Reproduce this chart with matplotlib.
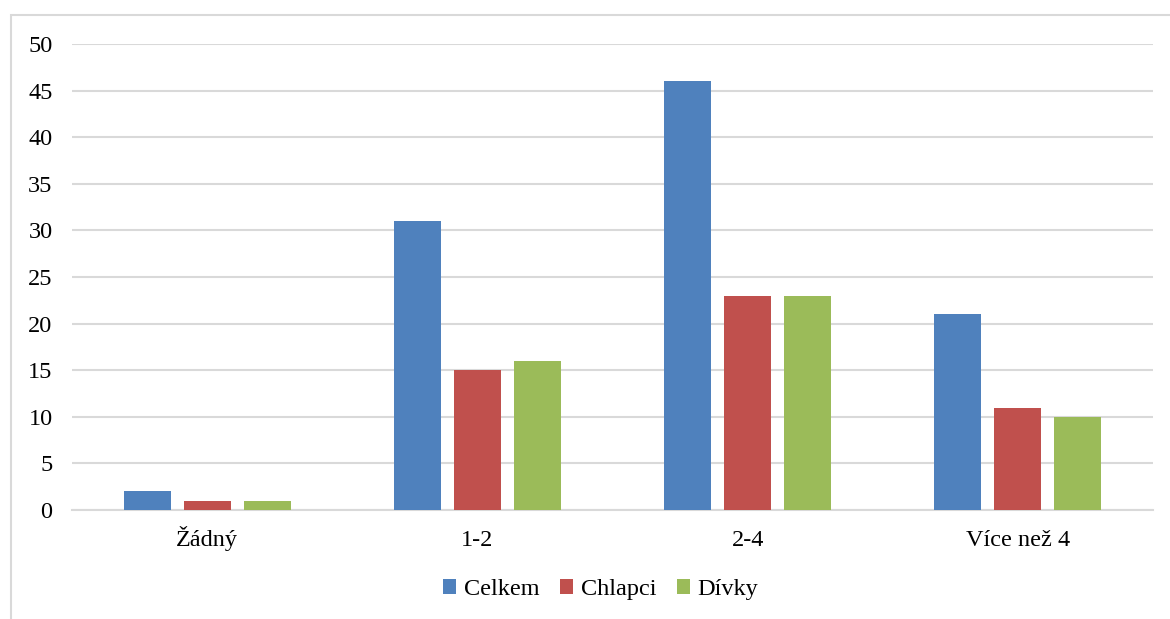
import matplotlib.pyplot as plt
import numpy as np
from matplotlib.patches import Rectangle

categories = ["Žádný", "1-2", "2-4", "Více než 4"]
celkem = [2, 31, 46, 21]
chlapci = [1, 15, 23, 11]
divky = [1, 16, 23, 10]

series = [("Celkem", celkem, "#4f81bd"),
          ("Chlapci", chlapci, "#c0504d"),
          ("Dívky", divky, "#9bbb59")]

plt.rcParams['font.family'] = ['Liberation Serif', 'DejaVu Serif']

fig = plt.figure(figsize=(11.7, 6.19), dpi=100)
ax = fig.add_axes([0.0615, 0.176, 0.924, 0.753])

# chart frame (only left and top edges visible)
fig.patches.append(Rectangle((11 / 1170, -0.1), 1.2, 1 - 15 / 619 + 0.1,
                             transform=fig.transFigure, fill=False,
                             edgecolor="#d9d9d9", linewidth=1.5))

x = np.arange(len(categories))
width = 0.174
step = 0.222
for i, (name, vals, col) in enumerate(series):
    ax.bar(x + (i - 1) * step, vals, width, color=col, label=name, zorder=3)

ax.set_xlim(-0.5, len(categories) - 0.5)
ax.set_ylim(0, 50)
ax.set_yticks(range(0, 51, 5))
ax.set_xticks(x)
ax.set_xticklabels(categories)
ax.grid(axis="y", color="#d9d9d9", linewidth=1.5, zorder=0)
for s in ["top", "right", "left"]:
    ax.spines[s].set_visible(False)
ax.spines["bottom"].set_color("#d9d9d9")
ax.spines["bottom"].set_linewidth(1.5)
ax.tick_params(length=0, labelsize=17.5, colors="black")
ax.tick_params(axis="y", pad=14)
ax.tick_params(axis="x", pad=26)
for lab in ax.get_xticklabels():
    lab.set_verticalalignment("baseline")

ax.legend(loc="center", bbox_to_anchor=(0.489, -0.17), ncol=3, frameon=False,
          fontsize=17.5, handlelength=0.55, handleheight=0.55, handletextpad=0.3,
          columnspacing=0.85)

fig.savefig("out.png", dpi=100)
